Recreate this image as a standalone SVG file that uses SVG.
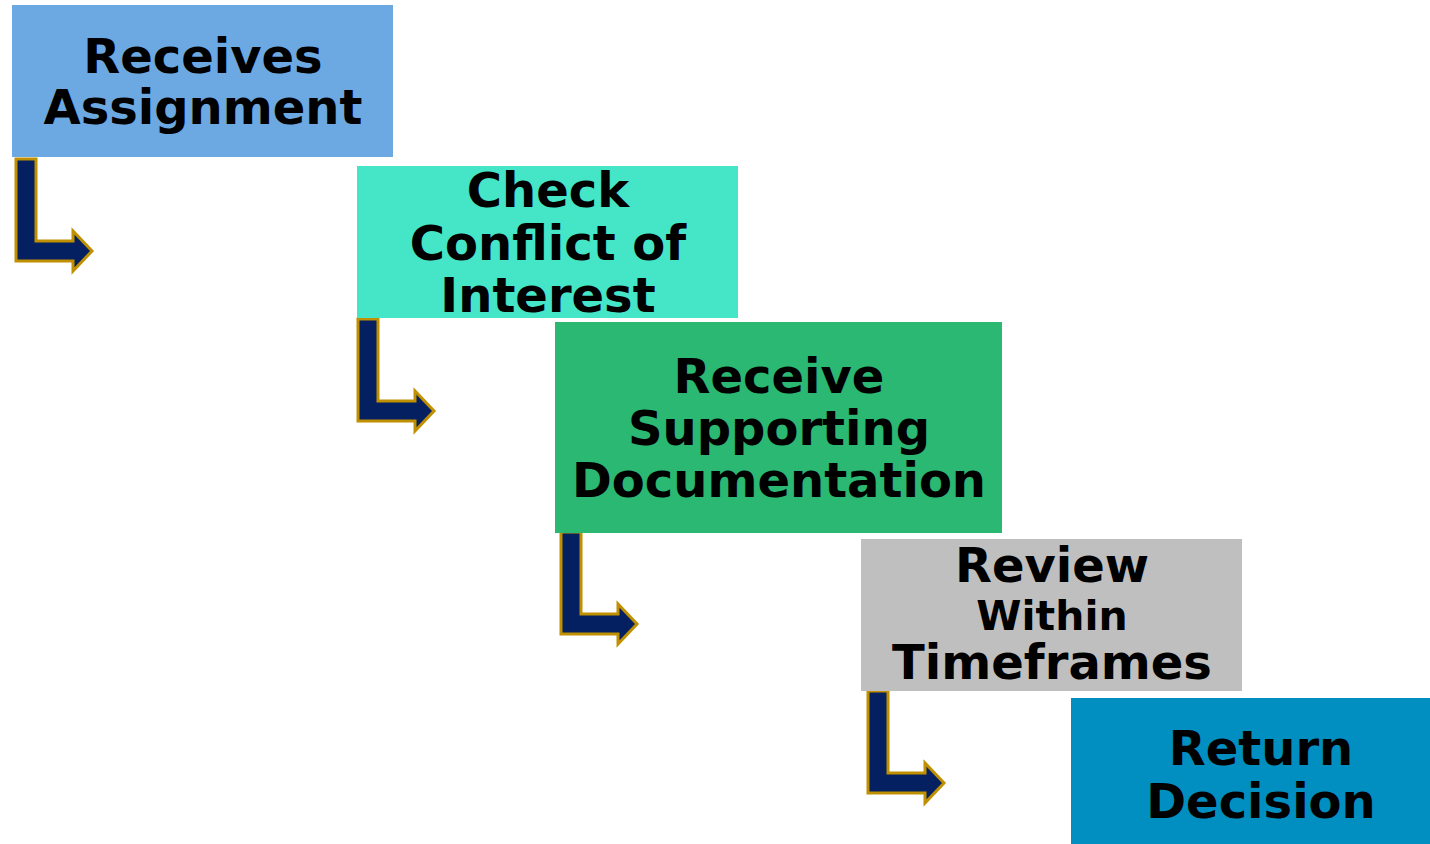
<svg xmlns="http://www.w3.org/2000/svg" width="1430" height="844" viewBox="0 0 1430 844">
<style>
.t{font-family:"DejaVu Sans","Verdana",sans-serif;font-weight:bold;font-size:48px;fill:#000;text-anchor:middle}
.s{font-size:41px}
.a{fill:#042060;stroke:#C09000;stroke-width:3;stroke-linejoin:miter}
</style>
<defs>
<path id="arr" d="M0,0 H20 V82 H57 V72 L76,92 L57,112 V102 H0 Z"/>
</defs>
<rect width="1430" height="844" fill="#fff"/>
<g id="connectors">
<use href="#arr" class="a" x="16" y="159"/>
<use href="#arr" class="a" x="358" y="319"/>
<use href="#arr" class="a" x="561" y="532"/>
<use href="#arr" class="a" x="868" y="691"/>
</g>
<g id="n1">
<rect x="12" y="5" width="381" height="152" fill="#6CA9E3"/>
<text class="t" x="203" y="73">Receives</text>
<text class="t" x="203" y="124">Assignment</text>
</g>
<g id="n2">
<rect x="357" y="166" width="381" height="152" fill="#45E5C8"/>
<text class="t" x="548" y="207">Check</text>
<text class="t" x="548" y="260">Conflict of</text>
<text class="t" x="548" y="312">Interest</text>
</g>
<g id="n3">
<rect x="555" y="322" width="447" height="211" fill="#2AB872"/>
<text class="t" x="779" y="393">Receive</text>
<text class="t" x="779" y="445">Supporting</text>
<text class="t" x="779" y="497">Documentation</text>
</g>
<g id="n4">
<rect x="861" y="539" width="381" height="152" fill="#BFBFBF"/>
<text class="t" x="1052" y="582">Review</text>
<text class="t s" x="1052" y="630">Within</text>
<text class="t" x="1052" y="679">Timeframes</text>
</g>
<g id="n5">
<rect x="1071" y="698" width="380" height="146" fill="#008FC0"/>
<text class="t" x="1261" y="765">Return</text>
<text class="t" x="1261" y="818">Decision</text>
</g>
</svg>
